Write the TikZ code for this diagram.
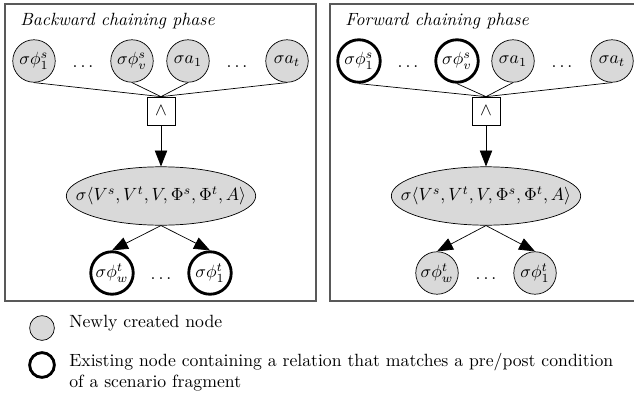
\documentclass[tikz,border=0pt]{standalone}
\usetikzlibrary{arrows.meta, shapes.geometric}

\begin{document}
\begin{tikzpicture}[x=0.565pt, y=-0.565pt, >={Triangle[length=9pt, width=7pt]}]
    \tikzstyle{panel}=[draw=black!65, line width=0.9pt]
    \tikzstyle{caption}=[font=\itshape, inner sep=0pt]
    \tikzstyle{newnode}=[draw, circle, fill=black!15, minimum size=24pt, inner sep=0pt]
    \tikzstyle{oldnode}=[draw, circle, fill=white, line width=1.6pt, minimum size=24pt, inner sep=0pt]
    \tikzstyle{dots}=[inner sep=0pt]
    \tikzstyle{andbox}=[draw, rectangle, minimum size=15.8pt, inner sep=0pt]
    \tikzstyle{tuple}=[draw, ellipse, fill=black!15, minimum width=107pt, minimum height=33pt, inner sep=0pt]
    \useasboundingbox (0,0) rectangle (634,395);

    % Draw both phases, the second one shifted to the right
    \foreach \p/\dx/\tsty/\bsty/\phase in {B/0/newnode/oldnode/Backward, F/325/oldnode/newnode/Forward} {
        % Frame and caption
        \draw[panel] (\dx+5,4) rectangle (\dx+316,301);
        \node[caption, anchor=base west] (\p-cap) at (\dx+20,26) {\phase\ chaining phase};

        % Top row: source relations and actions
        \node[\tsty] (\p-s1) at (\dx+34,61) {$\sigma\phi_1^s$};
        \node[dots] (\p-d1) at (\dx+83,67) {$\dots$};
        \node[\tsty] (\p-sv) at (\dx+132,61) {$\sigma\phi_v^s$};
        \node[newnode] (\p-a1) at (\dx+188,61) {$\sigma a_1$};
        \node[dots] (\p-d2) at (\dx+237,67) {$\dots$};
        \node[newnode] (\p-at) at (\dx+287,61) {$\sigma a_t$};

        % Conjunction and the fragment tuple
        \node[andbox] (\p-and) at (\dx+161,111) {$\wedge$};
        \node[tuple] (\p-tup) at (\dx+161,196) {\makebox[0pt]{$\sigma\langle V^s, V^t, V, \Phi^s, \Phi^t, A\rangle$}};

        % Bottom row: target relations
        \node[\bsty] (\p-tw) at (\dx+112,273) {$\sigma\phi_w^t$};
        \node[dots] (\p-d3) at (\dx+161,279) {$\dots$};
        \node[\bsty] (\p-t1) at (\dx+210,273) {$\sigma\phi_1^t$};

        % Connect the top row to the conjunction
        \foreach \src in {s1,sv,a1,at}
            \draw (\p-\src.south) -- (\p-and.north);

        \draw[->] (\p-and.south) -- (\p-tup.north);
        \draw[->] (\p-tup.south) -- (\p-tw.north);
        \draw[->] (\p-tup.south) -- (\p-t1.north);
    }

    % Legend
    \node[newnode, minimum size=14pt] (leg-new) at (42,328) {};
    \node[anchor=west, inner sep=0pt] (leg-new-txt) at (69,323.5) {Newly created node};
    \node[oldnode, minimum size=14pt] (leg-old) at (42,365) {};
    \node[anchor=north west, inner sep=0pt, align=left] (leg-old-txt) at (69,352.5)
        {Existing node containing a relation that matches a pre/post condition\\of a scenario fragment};
\end{tikzpicture}
\end{document}
